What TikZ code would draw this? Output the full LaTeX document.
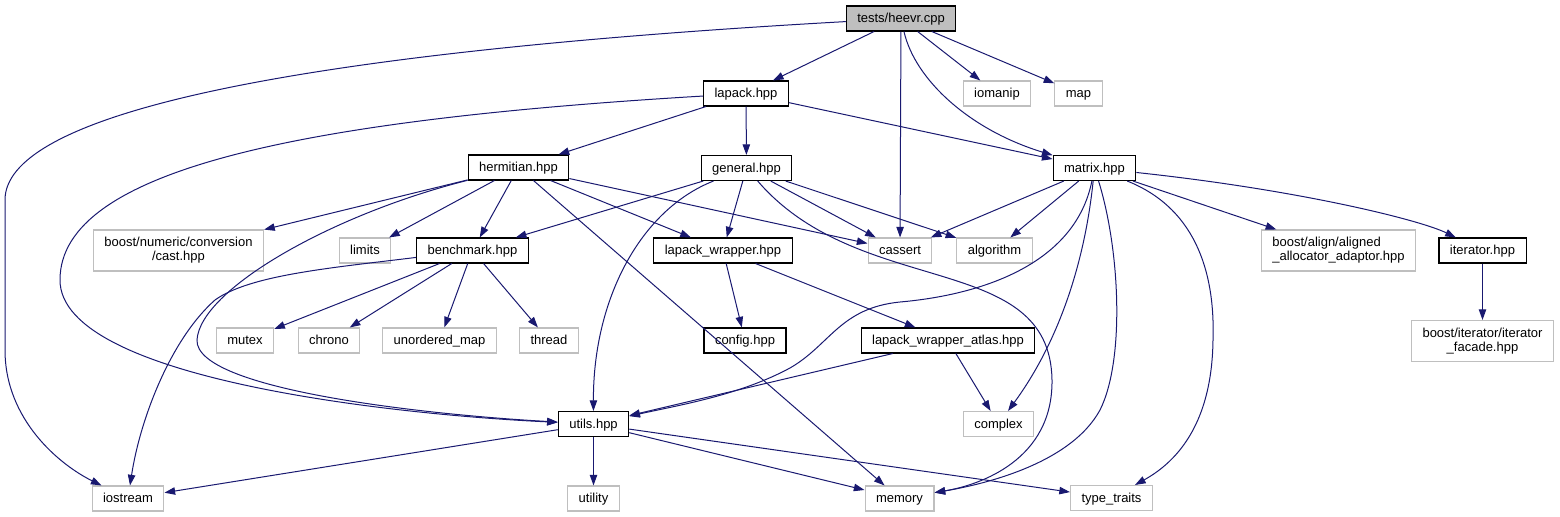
\documentclass[tikz,border=0pt]{standalone}
\usepackage{fontspec}
\setmainfont{Liberation Sans}
\usetikzlibrary{arrows.meta}
\definecolor{edgeblue}{RGB}{25,25,112}
\definecolor{boxgray}{RGB}{191,191,191}
\begin{document}
\begin{tikzpicture}[>={Triangle[length=8pt,width=5.6pt]}, x=0.75pt, y=-0.75pt,
  op/.style={rectangle, draw, align=center, minimum height=18.75pt, inner xsep=8.25pt, inner ysep=0pt, text height=7.5pt, text depth=1.5pt, font=\fontsize{9.75}{10.5}\selectfont, line width=0.8pt, fill=white},
  root/.style={op, fill=boxgray},
  sys/.style={op, draw=boxgray},
  tall/.style={minimum height=30.75pt, text height={}, text depth={}},
  edge/.style={->, line width=0.75pt, draw=edgeblue}
]
\useasboundingbox (0,0) rectangle (1560,517);
\node[root] (n0) at (901,18.5) {tests/heevr.cpp};
\node[op] (n1) at (746,93.5) {lapack.hpp};
\node[sys] (n2) at (997,93.5) {iomanip};
\node[sys] (n3) at (1078.5,93.5) {map};
\node[op] (n4) at (518.5,167.5) {hermitian.hpp};
\node[op] (n5) at (746.5,168) {general.hpp};
\node[op] (n6) at (1094.5,168) {matrix.hpp};
\node[sys, tall] (n7) at (178.5,250.5) {boost/numeric/conversion\\/cast.hpp};
\node[sys] (n8) at (365,250.5) {limits};
\node[op] (n9) at (472.5,250.5) {benchmark.hpp};
\node[op] (n10) at (723,250.5) {lapack\_wrapper.hpp};
\node[sys] (n11) at (900,250.5) {cassert};
\node[sys] (n12) at (994.5,250.5) {algorithm};
\node[sys, tall, align=left] (n13) at (1338.5,250.5) {boost/align/aligned\\\_allocator\_adaptor.hpp};
\node[op] (n14) at (1482.5,250.5) {iterator.hpp};
\node[sys] (n15) at (245,340.5) {mutex};
\node[sys] (n16) at (329,340.5) {chrono};
\node[sys] (n17) at (439.5,340.5) {unordered\_map};
\node[sys] (n18) at (549,340.5) {thread};
\node[op] (n19) at (745,340.5) {config.hpp};
\node[op] (n20) at (948,340.5) {lapack\_wrapper\_atlas.hpp};
\node[sys, tall] (n21) at (1482.5,341) {boost/iterator/iterator\\\_facade.hpp};
\node[op] (n22) at (593.5,424) {utils.hpp};
\node[sys] (n23) at (998.5,424) {complex};
\node[sys] (n24) at (128,498.5) {iostream};
\node[sys] (n25) at (593.5,498.5) {utility};
\node[sys] (n26) at (899.5,498.5) {memory};
\node[sys] (n27) at (1111.5,498) {type\_traits};
\draw[edge] (n0) -- (n1);
\draw[edge] (n0) -- (n11);
\draw[edge] (n0) -- (n2);
\draw[edge] (n0) -- (n3);
\draw[edge] (n0) .. controls (915,80) and (970,130) .. (n6);
\draw[edge] (n0) .. controls (250,55) and (5,120) .. (5,200) -- (5,350) .. controls (5,420) and (60,465) .. (n24);
\draw[edge] (n1) -- (n4);
\draw[edge] (n1) -- (n5);
\draw[edge] (n1) -- (n6);
\draw[edge] (n1) .. controls (300,120) and (60,170) .. (60,280) .. controls (60,380) and (400,415) .. (n22);
\draw[edge] (n4) -- (n7);
\draw[edge] (n4) -- (n8);
\draw[edge] (n4) -- (n9);
\draw[edge] (n4) -- (n10);
\draw[edge] (n4) -- (n11);
\draw[edge] (n4) -- (n26);
\draw[edge] (n4) .. controls (330,215) and (200,290) .. (197,340) .. controls (195,390) and (430,415) .. (n22);
\draw[edge] (n5) -- (n9);
\draw[edge] (n5) -- (n10);
\draw[edge] (n5) -- (n11);
\draw[edge] (n5) -- (n12);
\draw[edge] (n5) .. controls (640,210) and (593,300) .. (n22);
\draw[edge] (n5) .. controls (860,300) and (1050,250) .. (1052,380) .. controls (1053,460) and (980,485) .. (n26);
\draw[edge] (n6) -- (n11);
\draw[edge] (n6) -- (n12);
\draw[edge] (n6) -- (n13);
\draw[edge] (n6) .. controls (1300,190) and (1420,220) .. (n14);
\draw[edge] (n6) .. controls (1085,260) and (1060,340) .. (n23);
\draw[edge] (n6) .. controls (1120,250) and (1125,360) .. (1100,410) .. controls (1070,465) and (980,485) .. (n26);
\draw[edge] (n6) .. controls (1200,210) and (1215,280) .. (1213,340) .. controls (1212,420) and (1180,460) .. (n27);
\draw[edge] (n6) .. controls (1075,265) and (980,295) .. (900,302) .. controls (840,308) and (830,345) .. (790,368) .. controls (740,395) and (680,405) .. (n22);
\draw[edge] (n9) -- (n15);
\draw[edge] (n9) -- (n16);
\draw[edge] (n9) -- (n17);
\draw[edge] (n9) -- (n18);
\draw[edge] (n9) .. controls (330,268) and (250,275) .. (215,300) .. controls (170,340) and (140,420) .. (n24);
\draw[edge] (n10) -- (n19);
\draw[edge] (n10) -- (n20);
\draw[edge] (n20) -- (n22);
\draw[edge] (n20) -- (n23);
\draw[edge] (n14) -- (n21);
\draw[edge] (n22) -- (n24);
\draw[edge] (n22) -- (n25);
\draw[edge] (n22) -- (n26);
\draw[edge] (n22) -- (n27);
\end{tikzpicture}
\end{document}
